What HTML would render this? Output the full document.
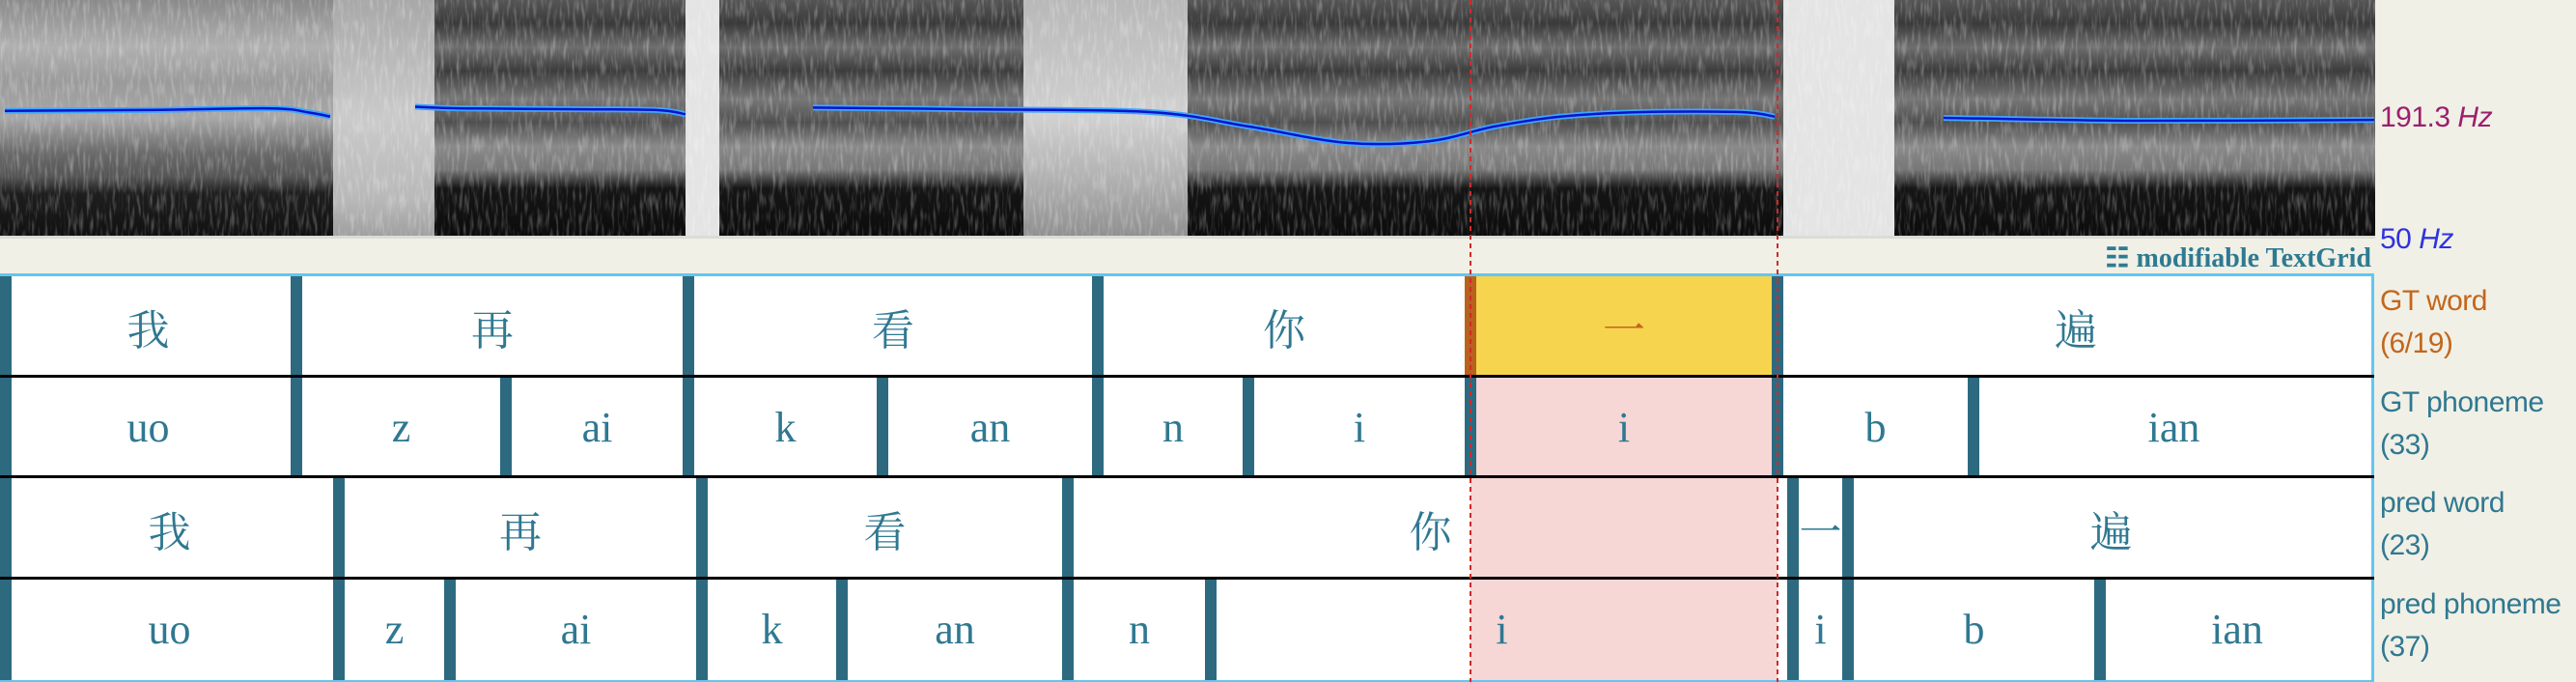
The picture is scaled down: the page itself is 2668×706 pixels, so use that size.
<!DOCTYPE html>
<html><head><meta charset="utf-8">
<style>
html,body{margin:0;padding:0;background:#f1f0e6;}
#root{position:relative;width:2668px;height:706px;overflow:hidden;background:#f1f0e6;font-family:"Liberation Sans","Noto Sans CJK SC",sans-serif;}
.lbl{position:absolute;left:2465px;font-size:30px;line-height:44px;white-space:nowrap;letter-spacing:-0.5px;}
.tg{font-family:"Liberation Serif","Noto Serif CJK SC",serif;}
</style></head>
<body>
<div id="root">
<svg id="spec" width="2460" height="247" style="position:absolute;left:0;top:0">
<defs>
<linearGradient id="gA" x1="0" y1="0" x2="0" y2="1"><stop offset="0" stop-color="#8a8a8a"/><stop offset="0.2" stop-color="#b0b0b0"/><stop offset="0.35" stop-color="#9a9a9a"/><stop offset="0.5" stop-color="#a8a8a8"/><stop offset="0.65" stop-color="#6a6a6a"/><stop offset="0.75" stop-color="#555"/><stop offset="0.82" stop-color="#1e1e1e"/><stop offset="1" stop-color="#111"/></linearGradient>
<linearGradient id="gF" x1="0" y1="0" x2="0" y2="1"><stop offset="0" stop-color="#a8a8a8"/><stop offset="0.5" stop-color="#cacaca"/><stop offset="0.85" stop-color="#b8b8b8"/><stop offset="1" stop-color="#a0a0a0"/></linearGradient>
<linearGradient id="gV" x1="0" y1="0" x2="0" y2="1"><stop offset="0" stop-color="#555"/><stop offset="0.1" stop-color="#3a3a3a"/><stop offset="0.2" stop-color="#6e6e6e"/><stop offset="0.3" stop-color="#3c3c3c"/><stop offset="0.42" stop-color="#777"/><stop offset="0.52" stop-color="#505050"/><stop offset="0.62" stop-color="#8a8a8a"/><stop offset="0.72" stop-color="#777"/><stop offset="0.8" stop-color="#151515"/><stop offset="1" stop-color="#0c0c0c"/></linearGradient>
<linearGradient id="gL" x1="0" y1="0" x2="0" y2="1"><stop offset="0" stop-color="#b8b8b8"/><stop offset="0.5" stop-color="#d0d0d0"/><stop offset="0.8" stop-color="#acacac"/><stop offset="1" stop-color="#909090"/></linearGradient>
<filter id="grain"><feTurbulence type="fractalNoise" baseFrequency="0.3 0.05" numOctaves="2" seed="3"/><feColorMatrix type="matrix" values="0 0 0 0 1  0 0 0 0 1  0 0 0 0 1  0 0 0 1.6 -0.75"/></filter>
</defs>
<g id="specRegions"></g>
<rect x="0" y="0" width="2460" height="244" filter="url(#grain)" opacity="0.45"/>
<rect x="0" y="244" width="2460" height="3" fill="#dcdcd6"/>
<g id="pitch"></g>
</svg>
<div class="lbl" style="top:100px;color:#9b1f6e">191.3 <i>Hz</i></div>
<div class="lbl" style="top:226px;color:#2e32e0">50 <i>Hz</i></div>
<div class="tg" style="position:absolute;right:212px;top:250px;font-size:28px;font-weight:bold;color:#2e7a92;white-space:nowrap">☷ modifiable TextGrid</div>
<div id="box" style="position:absolute;left:0;top:283px;width:2456px;height:418px;border:3px solid #62c6f2;border-left:none;background:#fff"></div>
<div id="tiers" style="position:absolute;left:0;top:286px;width:2459px;height:418px"></div>
<div id="labels"></div>
<svg id="cursor" width="2460" height="706" style="position:absolute;left:0;top:0;pointer-events:none"></svg>
</div>
<script>
// pitch data (time in s, Hz)
const pitchSeg1T=[0.005,0.150,0.280,0.320,0.342];
const pitchSeg1H=[201,202,204,199,194];
const pitchSeg2T=[0.430,0.480,0.600,0.680,0.710];
const pitchSeg2H=[206,204,203,202,197];
const pitchSeg3T=[0.842,1.000,1.191,1.293,1.395,1.480,1.548,1.616,1.701,1.803,1.838];
const pitchSeg3H=[205,203,199.5,182,162,164,182,194,199.5,199.5,194];
const pitchSeg4T=[2.013,2.212,2.459];
const pitchSeg4H=[192.5,189,190];
const TOTAL=2.459;
const tx=t=>t/TOTAL*2459;
const hy=h=>243-(h-50)/141.3*120;
const NS='http://www.w3.org/2000/svg';
// spectrogram regions (start, end in s, type)
const specStart=[0,0.345,0.450,0.710,0.745,1.060,1.230,1.847,1.962];
const specEnd=[0.345,0.450,0.710,0.745,1.060,1.230,1.847,1.962,2.460];
const specType=['gA','gF','gV','W','gV','gL','gV','W','gV'];
const sr=document.getElementById('specRegions');
specStart.forEach((s,i)=>{const r=document.createElementNS(NS,'rect');


r.setAttribute('x',tx(s));r.setAttribute('y',0);r.setAttribute('width',tx(specEnd[i])-tx(s));r.setAttribute('height',244);
r.setAttribute('fill',specType[i]==='W'?'#e4e4e4':'url(#'+specType[i]+')');sr.appendChild(r);});
const pg=document.getElementById('pitch');
function smooth(P){let d='M'+P[0][0].toFixed(1)+' '+P[0][1].toFixed(1);
 for(let i=0;i<P.length-1;i++){const p0=P[Math.max(0,i-1)],p1=P[i],p2=P[i+1],p3=P[Math.min(P.length-1,i+2)];
  const c1=[p1[0]+(p2[0]-p0[0])/6,p1[1]+(p2[1]-p0[1])/6],c2=[p2[0]-(p3[0]-p1[0])/6,p2[1]-(p3[1]-p1[1])/6];
  d+='C'+c1[0].toFixed(1)+' '+c1[1].toFixed(1)+' '+c2[0].toFixed(1)+' '+c2[1].toFixed(1)+' '+p2[0].toFixed(1)+' '+p2[1].toFixed(1);}
 return d;}
[[pitchSeg1T,pitchSeg1H],[pitchSeg2T,pitchSeg2H],[pitchSeg3T,pitchSeg3H],[pitchSeg4T,pitchSeg4H]].forEach(([T,H])=>{
 const d=smooth(T.map((t,i)=>[tx(t),hy(H[i])]));
 const a=document.createElementNS(NS,'path');a.setAttribute('d',d);a.setAttribute('stroke','#3fa6ff');a.setAttribute('stroke-width','6');a.setAttribute('fill','none');
 
 
 pg.appendChild(a);
 const b=document.createElementNS(NS,'path');b.setAttribute('d',d);b.setAttribute('stroke','#0a14c8');b.setAttribute('stroke-width','2.5');b.setAttribute('fill','none');
 
 
 pg.appendChild(b);
});
// tiers: boundaries (s) and labels
const gtWordB=[0,0.307,0.713,1.137,1.523,1.841,2.459];
const gtWordL=['我','再','看','你','一','遍'];
const gtPhB=[0,0.307,0.524,0.713,0.914,1.137,1.293,1.523,1.841,2.044,2.459];
const gtPhL=['uo','z','ai','k','an','n','i','i','b','ian'];
const prWordB=[0,0.351,0.727,1.106,1.857,1.914,2.459];
const prWordL=['我','再','看','你','一','遍'];
const prPhB=[0,0.351,0.466,0.727,0.872,1.106,1.254,1.857,1.914,2.175,2.459];
const prPhL=['uo','z','ai','k','an','n','i','i','b','ian'];
const tiers=[[gtWordB,gtWordL,'gt-word'],[gtPhB,gtPhL,'gt-phoneme'],[prWordB,prWordL,'pred-word'],[prPhB,prPhL,'pred-phoneme']];
const selS=1.523,selE=1.841;
const tc=document.getElementById('tiers');
const RH=104.5;
tiers.forEach(([B,L,nm],ti)=>{
 const row=document.createElement('div');
 
 
 row.style.cssText='position:absolute;left:0;top:'+(ti*RH)+'px;width:2459px;height:'+RH+'px;overflow:hidden';
 const hl=document.createElement('div');
 
 
 hl.style.cssText='position:absolute;top:0;height:100%;left:'+tx(selS)+'px;width:'+(tx(selE)-tx(selS))+'px;background:'+(ti===0?'#f7d44e':'#f7d6d6');
 row.appendChild(hl);
 for(let i=0;i<L.length;i++){
  const x0=tx(B[i]),x1=tx(B[i+1]);
  const t=document.createElement('div');
  t.className='tg';
  
  
  const sel=ti===0&&B[i]===selS;
  t.style.cssText='position:absolute;top:0;height:100%;display:flex;align-items:center;justify-content:center;font-size:44px;color:'+(sel?'#c3661c':'#2f7891')+';left:'+x0+'px;width:'+(x1-x0)+'px';
  t.textContent=L[i];row.appendChild(t);
 }
 B.slice(0,-1).forEach((b,i)=>{
  const bar=document.createElement('div');
  
  
  const x=tx(b);const left=i===0?0:x-6;
  const sel=ti===0&&b===selS;
  bar.style.cssText='position:absolute;top:0;height:100%;width:12px;left:'+left+'px;background:'+(sel?'#b8621e':'#2d6a80');
  row.appendChild(bar);
 });
 if(ti<3){const ln=document.createElement('div');
  
  
  ln.style.cssText='position:absolute;left:0;bottom:0;width:100%;height:3px;background:#000';row.appendChild(ln);}
 tc.appendChild(row);
});
const tierNames=['GT word','GT phoneme','pred word','pred phoneme'];
const tierCounts=['(6/19)','(33)','(23)','(37)'];
const lb=document.getElementById('labels');
tierNames.forEach((n,i)=>{
 const d=document.createElement('div');d.className='lbl';
 
 
 d.style.top=(290+i*RH)+'px';d.style.color=i===0?'#c3661c':'#2f7891';
 d.innerHTML=n+'<br>'+tierCounts[i];lb.appendChild(d);
});
const cs=document.getElementById('cursor');
[selS,selE].forEach(t=>{const l=document.createElementNS(NS,'line');
 
 
 l.setAttribute('x1',tx(t));l.setAttribute('x2',tx(t));l.setAttribute('y1',0);l.setAttribute('y2',706);
 l.setAttribute('stroke','#d02a2a');l.setAttribute('stroke-width','2');l.setAttribute('stroke-dasharray','5 4');cs.appendChild(l);});
</script>
</body></html>
